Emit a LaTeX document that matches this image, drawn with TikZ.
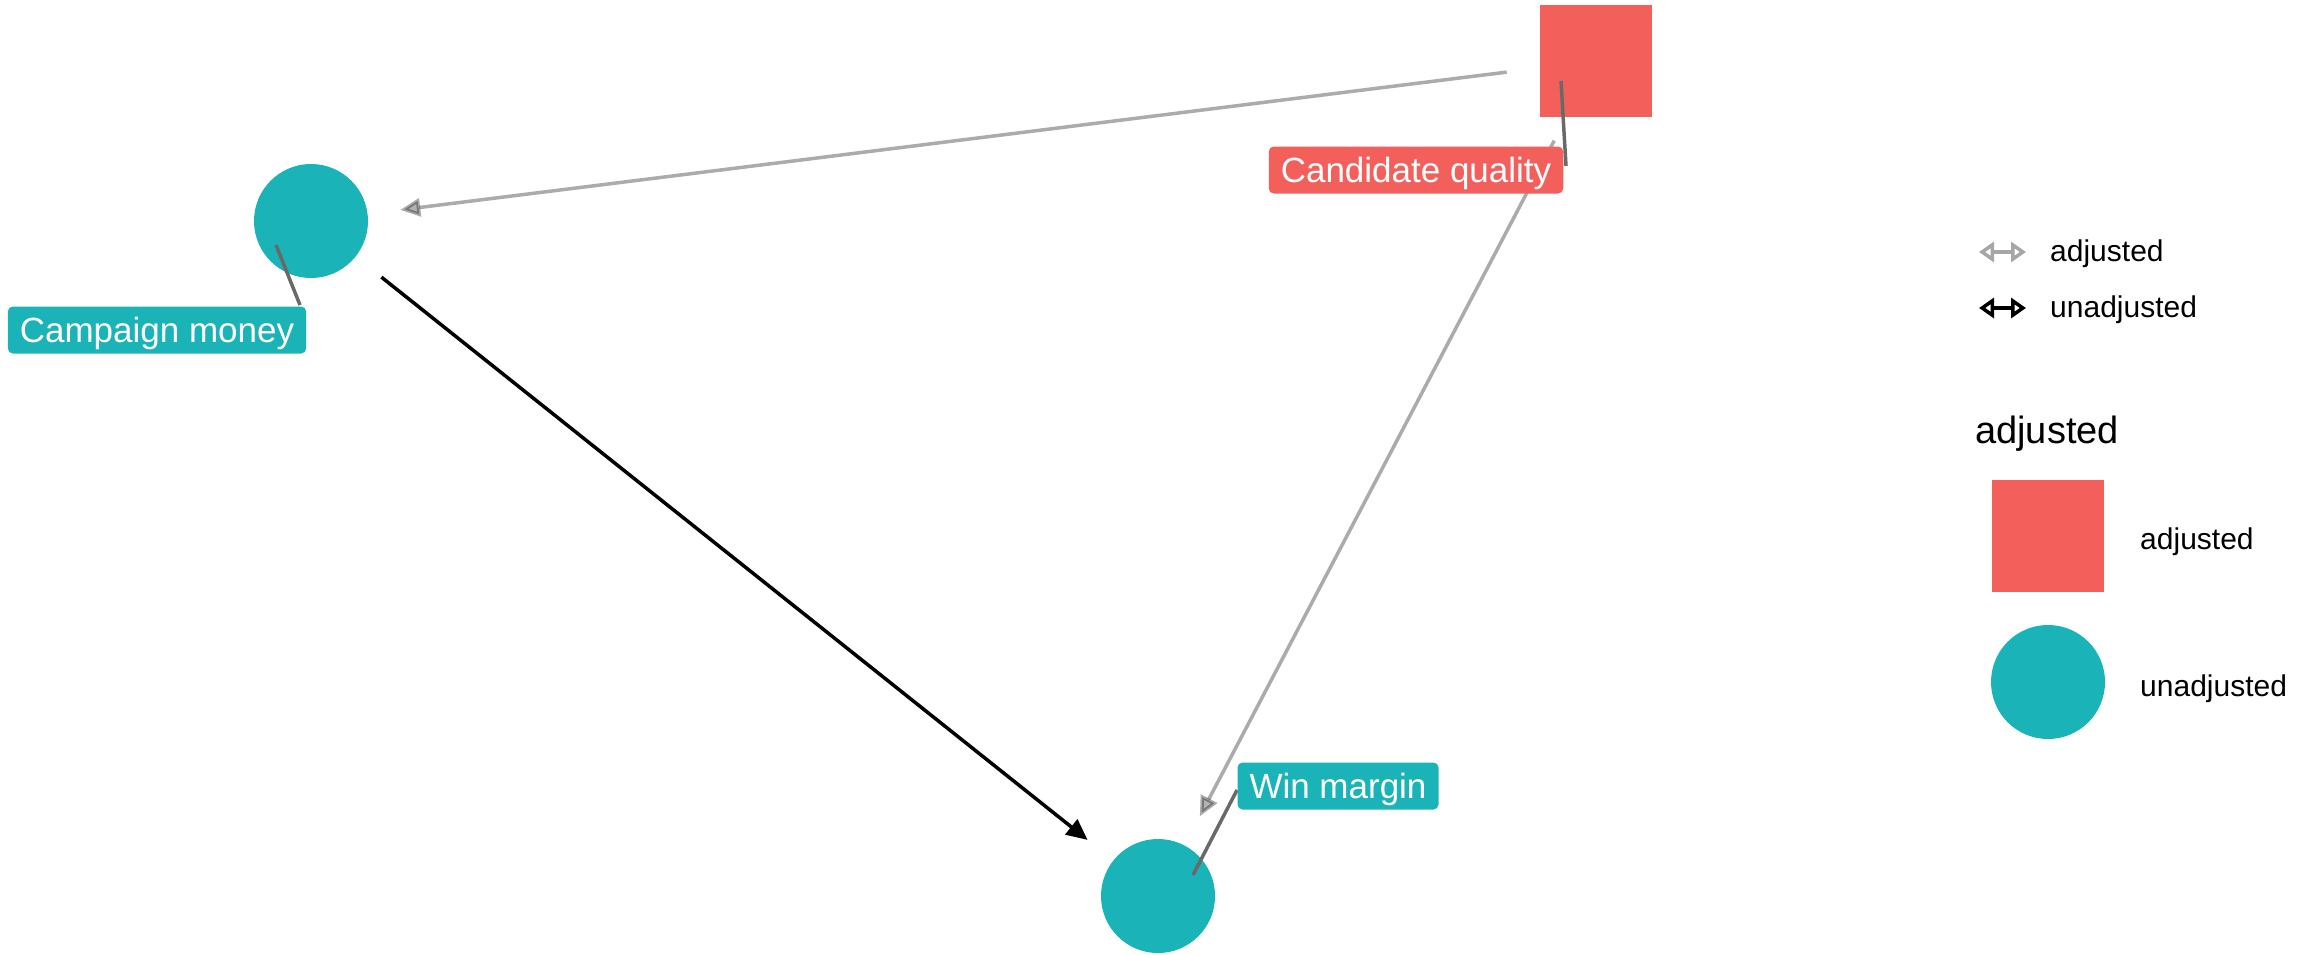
\documentclass[tikz,border=0pt]{standalone}
\usepackage{fontspec}
\setmainfont{Liberation Sans}
\usetikzlibrary{arrows.meta}
\definecolor{adjred}{RGB}{243,96,92}
\definecolor{unadjteal}{RGB}{26,179,184}
\definecolor{leadgray}{RGB}{105,105,105}
\begin{document}
\begin{tikzpicture}[x=1pt,y=-1pt,
  sqnode/.style={rectangle,fill=adjred,minimum size=112pt,inner sep=0pt},
  cnode/.style={circle,fill=unadjteal,minimum size=114pt,inner sep=0pt},
  lbl/.style={rounded corners=5pt,text=white,font=\fontsize{35}{42}\selectfont,
    inner xsep=12pt,inner ysep=0pt,minimum height=47pt,text height=28pt,text depth=4pt},
  adjedge/.style={draw=black,draw opacity=0.33,fill opacity=0.3,line width=3.5pt,
    -{Triangle[length=20pt,width=18pt,fill=black]},
    shorten <=90pt,shorten >=90pt},
  unadjedge/.style={draw=black,line width=3.5pt,
    -{Triangle[length=21pt,width=19pt]},shorten <=90pt,shorten >=90pt},
  leader/.style={draw=leadgray,line width=3.5pt},
  legtext/.style={anchor=west,font=\fontsize{30}{36}\selectfont,inner sep=0pt},
  legarrow/.style={line width=3.5pt,
    {Triangle[open,length=15pt,width=20pt]}-{Triangle[open,length=15pt,width=20pt]}},
]
\useasboundingbox (0,0) rectangle (2317,954);

% nodes of the graph
\node[sqnode] (cq) at (1596,61) {};
\node[cnode] (cm) at (311,221) {};
\node[cnode] (wm) at (1158,896) {};

% causal edges
\path[adjedge] (cq.center) -- (cm.center);
\path[adjedge] (cq.center) -- (wm.center);
\path[unadjedge] (cm.center) -- (wm.center);

% label leader segments
\coordinate (cqa) at (1561,81);  \coordinate (cqb) at (1566,166);
\coordinate (cma) at (276,245);  \coordinate (cmb) at (300,305);
\coordinate (wma) at (1193,875); \coordinate (wmb) at (1237,790);
\draw[leader] (cqa) -- (cqb);
\draw[leader] (cma) -- (cmb);
\draw[leader] (wma) -- (wmb);

% node labels
\node[lbl,fill=adjred] (cqlabel) at (1416,170) {Candidate quality};
\node[lbl,fill=unadjteal] (cmlabel) at (157,330) {Campaign money};
\node[lbl,fill=unadjteal] (wmlabel) at (1338,786) {Win margin};

% legend: edge types
\coordinate (la1) at (1979,252); \coordinate (lb1) at (2026,252);
\coordinate (la2) at (1979,308); \coordinate (lb2) at (2026,308);
\draw[legarrow,draw=black!35] (la1) -- (lb1);
\draw[legarrow,draw=black] (la2) -- (lb2);
\node[legtext] (leg1) at (2050,254) {adjusted};
\node[legtext] (leg2) at (2050,310) {unadjusted};

% legend: node shapes
\node[anchor=west,font=\fontsize{38}{44}\selectfont,inner sep=0pt] (legtitle) at (1975,434) {adjusted};
\node[sqnode] (legsq) at (2048,536) {};
\node[cnode] (legci) at (2048,682) {};
\node[legtext] (leg3) at (2140,542) {adjusted};
\node[legtext] (leg4) at (2140,689) {unadjusted};
\end{tikzpicture}
\end{document}
